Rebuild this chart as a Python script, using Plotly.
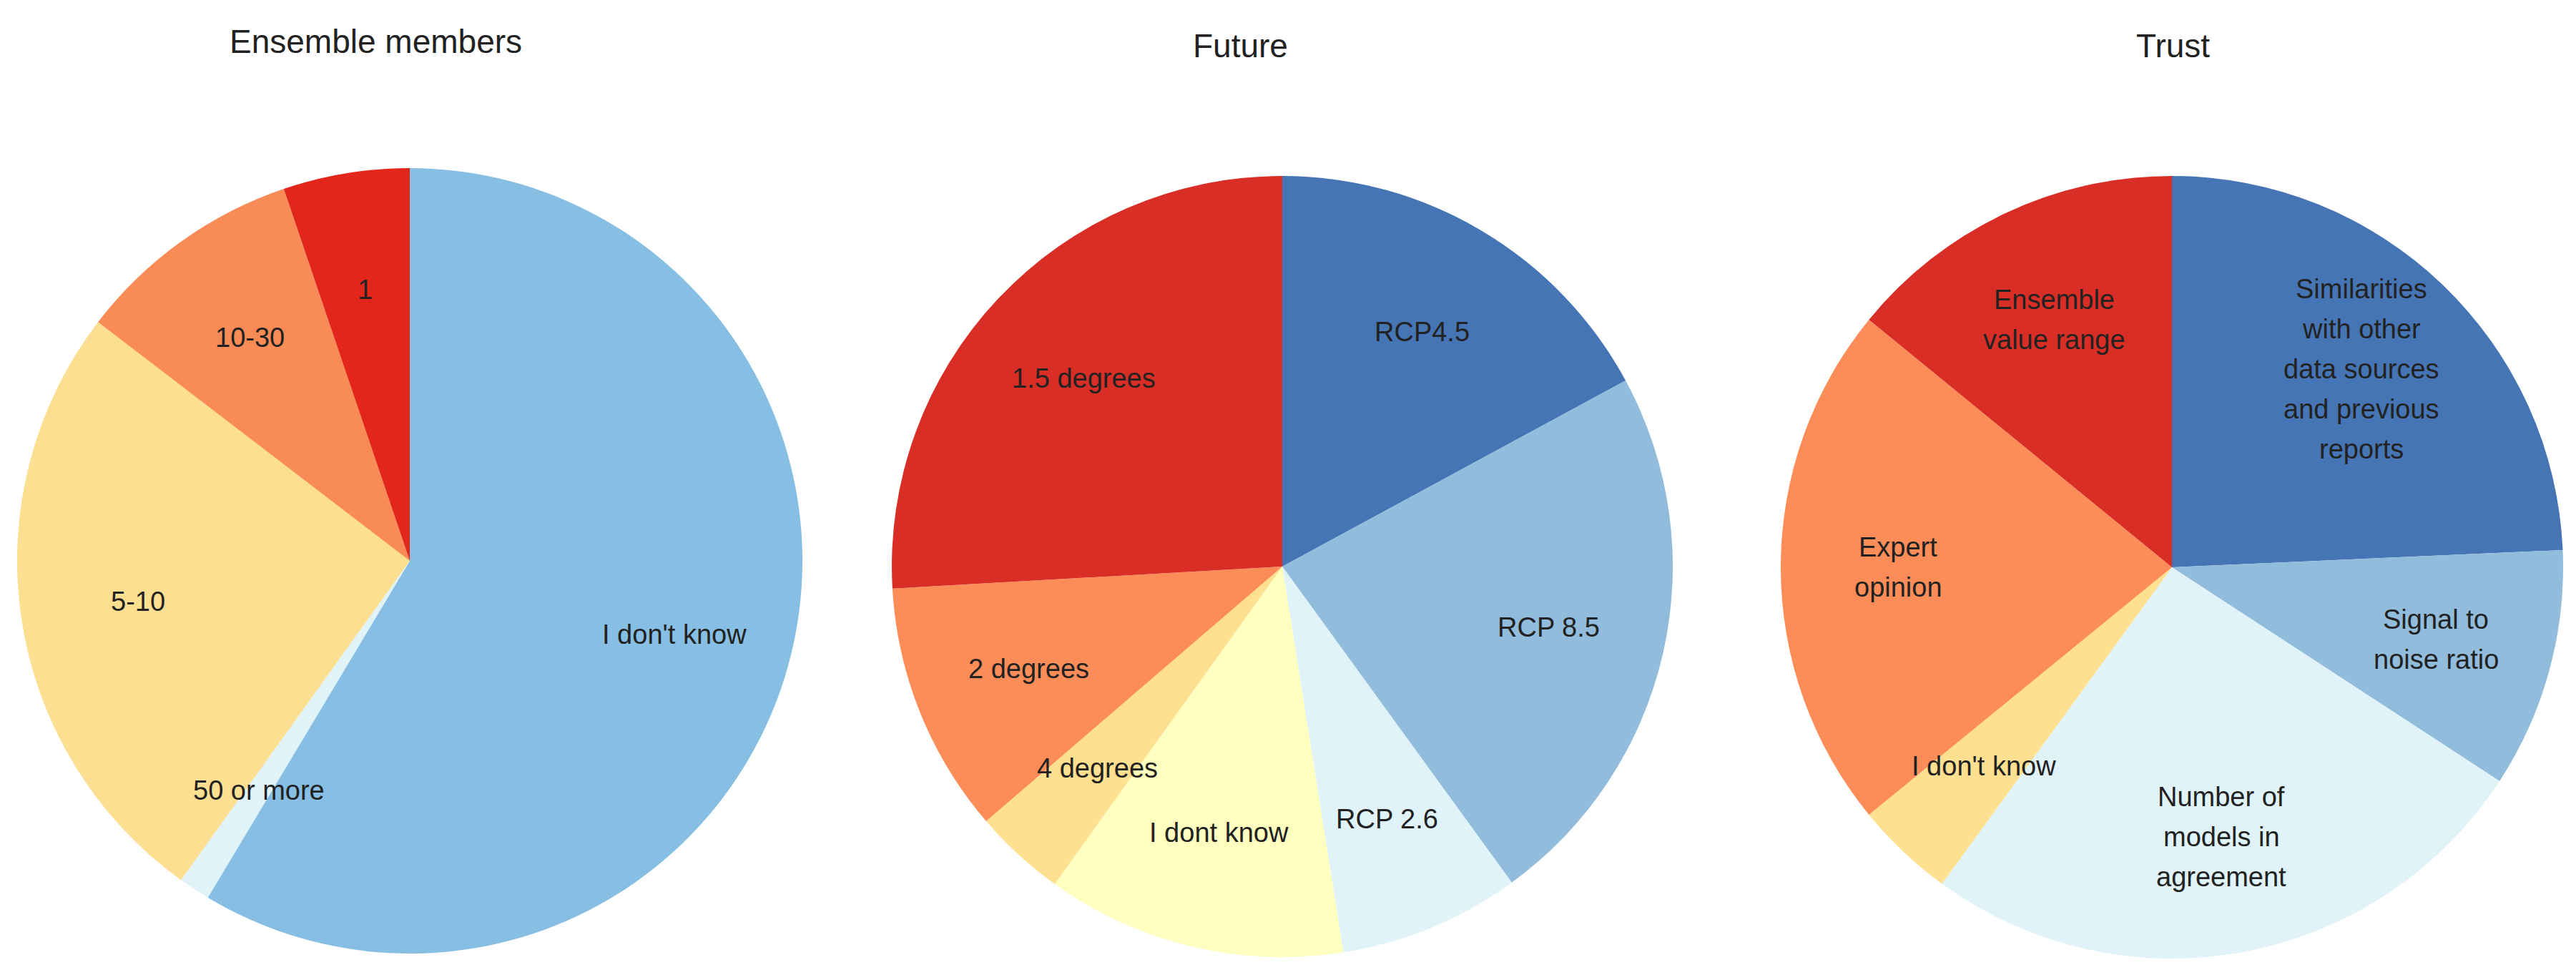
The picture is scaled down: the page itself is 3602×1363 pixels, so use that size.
import math
import plotly.graph_objects as go

W, H = 3602, 1363

# ---- data (percent of responses, clockwise from 12 o'clock) ----
ens_labels = ["I don't know", "50 or more", "5-10", "10-30", "1"]
ens_values = [58.6, 1.3, 25.5, 9.4, 5.2]
ens_colors = ["#86bfe3", "#e0f3f9", "#fddf91", "#f98b56", "#e3261b"]

fut_labels = ["RCP4.5", "RCP 8.5", "RCP 2.6", "I dont know", "4 degrees", "2 degrees", "1.5 degrees"]
fut_values = [17.1, 22.9, 7.5, 12.4, 3.8, 10.4, 25.9]
fut_colors = ["#4575b4", "#91bcdb", "#e0f3f8", "#ffffbf", "#fee090", "#fc8d59", "#d92e26"]

tru_labels = ["Similarities\nwith other\ndata sources\nand previous\nreports", "Signal to\nnoise ratio",
              "Number of\nmodels in\nagreement", "I don't know", "Expert\nopinion", "Ensemble\nvalue range"]
tru_values = [24.3, 9.9, 25.8, 4.1, 21.8, 14.1]
tru_colors = ["#4575b4", "#91bcdb", "#e0f3f8", "#fee090", "#fc8d59", "#d92e26"]

titles = ["Ensemble members", "Future", "Trust"]

# ---- layout geometry (pixels) ----
panels = [
    dict(cx=565, cy=776, r=549, tx=517, ty=50),
    dict(cx=1785, cy=784, r=546, tx=1726, ty=56),
    dict(cx=3029, cy=785, r=547, tx=3030, ty=56),
]
FONT = "Liberation Sans, Arial, sans-serif"
TXT = "#222222"

fig = go.Figure()
annotations = []
datasets = [(ens_labels, ens_values, ens_colors), (fut_labels, fut_values, fut_colors),
            (tru_labels, tru_values, tru_colors)]

for (labels, values, colors), p, title in zip(datasets, panels, titles):
    cx, cy, r = p["cx"], p["cy"], p["r"]
    fig.add_trace(go.Pie(
        labels=[l.replace("\n", " ") for l in labels], values=values,
        marker=dict(colors=colors, line=dict(width=0)),
        sort=False, direction="clockwise", rotation=0,
        textinfo="none", hoverinfo="label+percent", showlegend=False,
        domain=dict(x=[(cx - r) / W, (cx + r) / W], y=[1 - (cy + r) / H, 1 - (cy - r) / H]),
    ))
    total = sum(values)
    cum = 0.0
    for lab, v in zip(labels, values):
        mid = (cum + v / 2) / total * 2 * math.pi
        cum += v
        px = cx + 0.70 * r * math.sin(mid)
        py = cy - 0.70 * r * math.cos(mid)
        lines = lab.split("\n")
        n = len(lines)
        for i, ln in enumerate(lines):
            off = ((n - 1) / 2 - i) * 56
            annotations.append(dict(
                x=px / W, y=1 - py / H, xref="paper", yref="paper",
                text=ln, showarrow=False, yshift=off,
                font=dict(family=FONT, size=38, color=TXT),
                xanchor="center", yanchor="middle"))
    annotations.append(dict(
        x=p["tx"] / W, y=1 - p["ty"] / H, xref="paper", yref="paper",
        text=title, showarrow=False, font=dict(family=FONT, size=46, color=TXT),
        xanchor="center", yanchor="middle"))

fig.update_layout(
    width=W, height=H, margin=dict(l=0, r=0, t=0, b=0),
    paper_bgcolor="white", plot_bgcolor="white",
    annotations=annotations,
)
fig.write_html("out.html")
